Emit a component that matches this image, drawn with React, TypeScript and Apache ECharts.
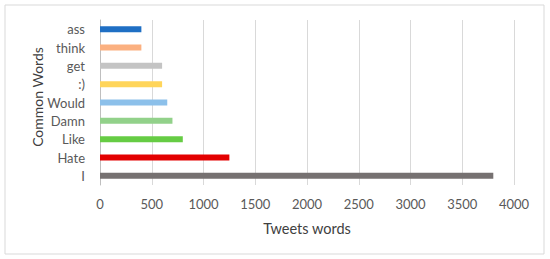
import React, { useEffect, useRef } from "react";
import * as echarts from "echarts";

const categories = ["I", "Hate", "Like", "Damn", "Would", ":)", "get", "think", "ass"];
const values = [3800, 1250, 800, 700, 650, 600, 600, 400, 400];
const colors = ["#767171", "#e30000", "#66cc44", "#92d18a", "#8cc0ea", "#ffd55a", "#c4c4c4", "#fbb080", "#1f6fc4"];
const xTicks = { min: 0, max: 4000, interval: 500 };

export default function App() {
  const ref = useRef<HTMLDivElement>(null);
  useEffect(() => {
    document.body.style.margin = "0";
    const chart = echarts.init(ref.current!, null, { renderer: "svg" });
    const font = "Lato, 'Open Sans', sans-serif";
    chart.setOption({
      animation: false,
      backgroundColor: "#ffffff",
      textStyle: { fontFamily: font },
      graphic: [
        {
          type: "rect",
          shape: { x: 5, y: 5, width: 539, height: 249 },
          style: { fill: "none", stroke: "#d9d9d9", lineWidth: 1 },
          silent: true,
        },
        {
          type: "text",
          x: 37,
          y: 97,
          rotation: Math.PI / 2,
          style: {
            text: "Common Words",
            fontSize: 14,
            fontFamily: font,
            fill: "#404040",
            align: "center",
            verticalAlign: "middle",
          },
          silent: true,
        },
      ],
      grid: { left: 100, right: 36, top: 20, bottom: 74 },
      xAxis: {
        type: "value",
        min: xTicks.min,
        max: xTicks.max,
        interval: xTicks.interval,
        name: "Tweets words",
        nameLocation: "middle",
        nameGap: 36,
        nameTextStyle: { fontSize: 14.5, color: "#404040", fontFamily: font },
        axisLine: { show: false },
        axisTick: { show: false },
        axisLabel: {
          fontSize: 13,
          color: "#595959",
          margin: 12,
          fontFamily: font,
          formatter: (v: number) => String(v),
        },
        splitLine: { lineStyle: { color: "#d9d9d9", width: 1 } },
      },
      yAxis: {
        type: "category",
        data: categories,
        axisLine: { show: true, lineStyle: { color: "#bfbfbf" } },
        axisTick: { show: false },
        axisLabel: { fontSize: 13, color: "#595959", margin: 15, fontFamily: font },
      },
      series: [
        {
          type: "bar",
          barWidth: 6,
          data: values.map((v, i) => ({ value: v, itemStyle: { color: colors[i] } })),
        },
      ],
    });
    return () => chart.dispose();
  }, []);
  return <div ref={ref} style={{ width: 550, height: 259 }} />;
}
